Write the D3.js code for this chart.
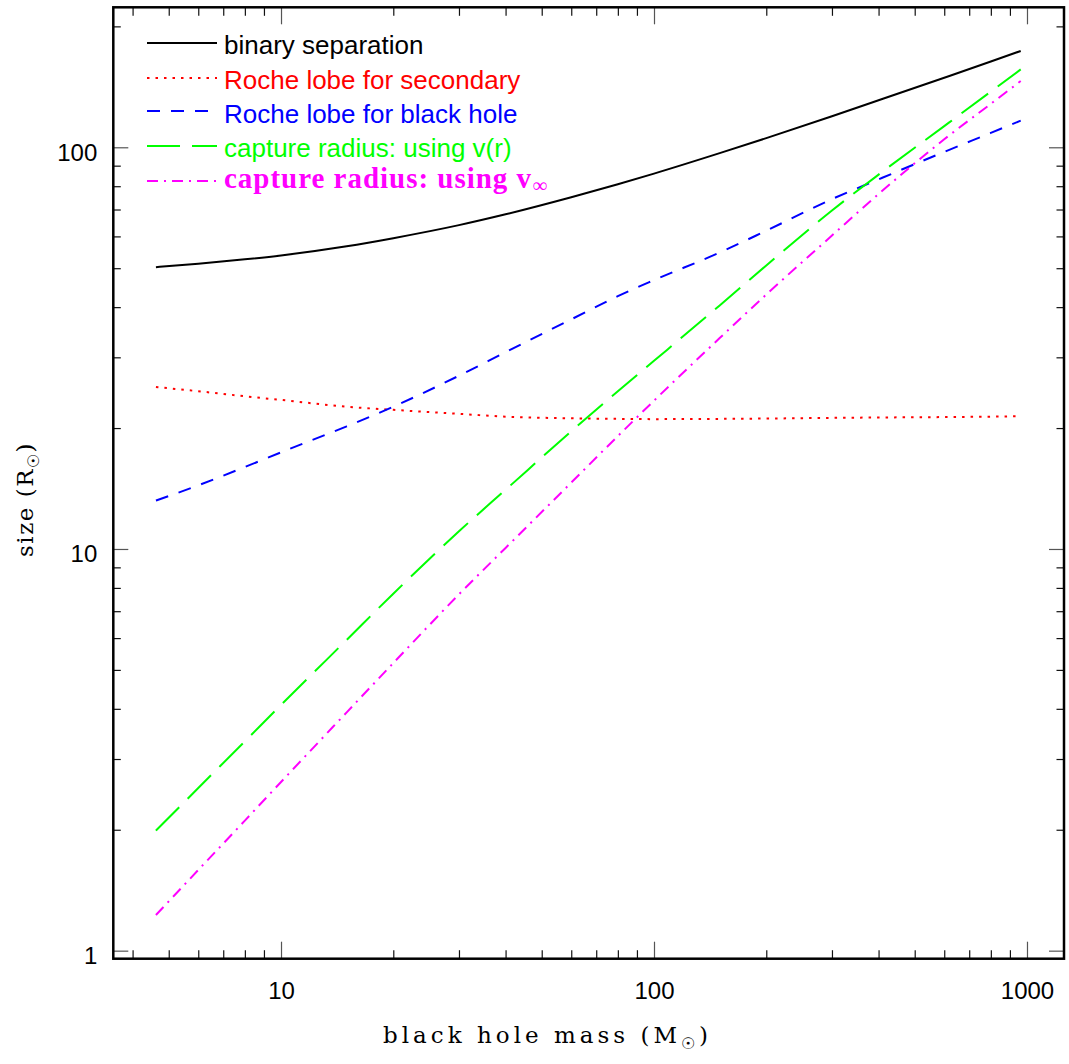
<!DOCTYPE html>
<html>
<head>
<meta charset="utf-8">
<script src="https://cdn.jsdelivr.net/npm/d3@7"></script>
<style>
  html, body { margin: 0; padding: 0; background: #fff; }
  svg { display: block; }
</style>
</head>
<body>
<svg id="chart" width="1069" height="1064"></svg>
<script>
// ---------------- data ----------------
const masses = [4.62, 6, 8, 10, 15, 20, 30, 40, 60, 80, 100, 150, 200, 300, 400, 600, 800, 962];
const binarySeparation = [50.3, 51.3, 52.6, 53.8, 56.7, 59.4, 64.0, 68.1, 75.1, 80.9, 86.0, 96.7, 105.4, 119.5, 130.9, 149.0, 163.5, 173.7];
const rocheSecondary = [25.3, 24.7, 24.0, 23.5, 22.6, 22.2, 21.7, 21.35, 21.15, 21.08, 21.05, 21.08, 21.12, 21.2, 21.25, 21.3, 21.35, 21.4];
const rocheBlackHole = [13.2, 14.4, 16.0, 17.4, 20.2, 22.6, 27.0, 30.9, 37.3, 42.6, 46.7, 54.7, 62.0, 74.3, 83.2, 97.4, 108.6, 116.5];
const captureVr = [1.99, 2.54, 3.32, 4.09, 5.94, 7.74, 11.07, 14.04, 19.63, 24.7, 29.4, 40.4, 50.8, 69.6, 85.5, 112.9, 137.6, 156.3];
const captureVinf = [1.227, 1.588, 2.108, 2.63, 3.92, 5.20, 7.71, 10.06, 14.63, 19.1, 23.4, 33.5, 43.0, 60.3, 76.5, 104.7, 128.3, 146.2];

const seriesNames = ["binary separation", "Roche lobe for secondary", "Roche lobe for black hole", "capture radius: using v(r)", "capture radius: using v"];
const seriesValues = [binarySeparation, rocheSecondary, rocheBlackHole, captureVr, captureVinf];
const seriesColors = ["#000000", "#ff0000", "#0000ff", "#00ff00", "#ff00ff"];
const seriesDashes = [null, "2.5,6", "13,11", "33,12", "11,6,2,6"];

const xMajorTicks = [10, 100, 1000];
const xMajorLabels = ["10", "100", "1000"];
const xMinorTicks = [4, 5, 6, 7, 8, 9, 20, 30, 40, 50, 60, 70, 80, 90, 200, 300, 400, 500, 600, 700, 800, 900];
const yMajorTicks = [1, 10, 100];
const yMajorLabels = ["1", "10", "100"];
const yMinorTicks = [2, 3, 4, 5, 6, 7, 8, 9, 20, 30, 40, 50, 60, 70, 80, 90, 200];

const xTitle = "black hole mass (M";
const yTitle = "size (R";
const sunSymbol = "\u2609";

// ---------------- layout ----------------
const L = 113.3, R = 1064, T = 7.3, B = 958.7;
const svg = d3.select("#chart");

const x = d3.scaleLog().domain([3.551, 1256.7]).range([L, R]);
const y = d3.scaleLog().domain([0.955, 223.1]).range([B, T]);

const sansFont = "'Liberation Sans', Arial, Helvetica, sans-serif";
const serifFont = "'Liberation Serif', 'Times New Roman', serif";
const titleFont = "'DejaVu Serif', 'Liberation Serif', serif";

// ---------------- axes / ticks ----------------
function styleAxis(g, color) {
  g.select(".domain").remove();
  g.selectAll(".tick line").attr("stroke", color).attr("stroke-width", 1.2);
  g.selectAll("text").attr("font-family", sansFont).attr("font-size", 24).attr("fill", "#000");
}

// bottom
svg.append("g").attr("transform", `translate(0,${B})`)
  .call(d3.axisBottom(x).tickValues(xMinorTicks).tickSize(-8.5).tickFormat(""))
  .call(g => styleAxis(g, "#111"));
svg.append("g").attr("transform", `translate(0,${B})`)
  .call(d3.axisBottom(x).tickValues(xMajorTicks).tickSize(-17).tickPadding(23)
        .tickFormat((d, i) => xMajorLabels[i]))
  .call(g => styleAxis(g, "#555"));
// top
svg.append("g").attr("transform", `translate(0,${T})`)
  .call(d3.axisTop(x).tickValues(xMinorTicks).tickSize(-8.5).tickFormat(""))
  .call(g => styleAxis(g, "#111"));
svg.append("g").attr("transform", `translate(0,${T})`)
  .call(d3.axisTop(x).tickValues(xMajorTicks).tickSize(-17).tickFormat(""))
  .call(g => styleAxis(g, "#555"));
// left
svg.append("g").attr("transform", `translate(${L},0)`)
  .call(d3.axisLeft(y).tickValues(yMinorTicks).tickSize(-7.5).tickFormat(""))
  .call(g => styleAxis(g, "#111"));
svg.append("g").attr("transform", `translate(${L},0)`)
  .call(d3.axisLeft(y).tickValues(yMajorTicks).tickSize(-15).tickPadding(16)
        .tickFormat((d, i) => yMajorLabels[i]))
  .call(g => { styleAxis(g, "#555"); g.selectAll("text").attr("dy", "0.53em"); });
// right
svg.append("g").attr("transform", `translate(${R},0)`)
  .call(d3.axisRight(y).tickValues(yMinorTicks).tickSize(-7.5).tickFormat(""))
  .call(g => styleAxis(g, "#111"));
svg.append("g").attr("transform", `translate(${R},0)`)
  .call(d3.axisRight(y).tickValues(yMajorTicks).tickSize(-15).tickFormat(""))
  .call(g => styleAxis(g, "#555"));

// frame
svg.append("rect").attr("x", L).attr("y", T).attr("width", R - L).attr("height", B - T)
  .attr("fill", "none").attr("stroke", "#000").attr("stroke-width", 2.5);

// ---------------- series ----------------
const line = d3.line()
  .x(d => x(d[0]))
  .y(d => y(d[1]))
  .curve(d3.curveMonotoneX);

seriesValues.forEach((vals, i) => {
  const pts = masses.map((m, j) => [m, vals[j]]);
  svg.append("path")
    .datum(pts)
    .attr("d", line)
    .attr("fill", "none")
    .attr("stroke", seriesColors[i])
    .attr("stroke-width", 2)
    .attr("stroke-dasharray", seriesDashes[i]);
});

// ---------------- legend ----------------
const legendLineX0 = 147, legendLineX1 = 217, legendTextX = 224;
const legendLineY = [43, 78, 111, 146, 181];
const legendBaseY = [54, 89, 123, 157, 188];

seriesNames.forEach((name, i) => {
  svg.append("line")
    .attr("x1", legendLineX0).attr("x2", legendLineX1)
    .attr("y1", legendLineY[i]).attr("y2", legendLineY[i])
    .attr("stroke", seriesColors[i]).attr("stroke-width", 2)
    .attr("stroke-dasharray", seriesDashes[i]);
  const t = svg.append("text")
    .attr("x", legendTextX).attr("y", legendBaseY[i])
    .attr("fill", seriesColors[i])
    .text(name);
  if (i < 4) {
    t.attr("font-family", sansFont).attr("font-size", 26);
  } else {
    t.attr("font-family", serifFont).attr("font-size", 29).attr("font-weight", "bold");
    const target = 308;
    const len = t.node().getComputedTextLength();
    const ls = (target - len) / name.length;
    t.attr("letter-spacing", ls);
    svg.append("text")
      .attr("x", legendTextX + target + 1).attr("y", legendBaseY[i] + 4)
      .attr("fill", seriesColors[i])
      .attr("font-family", serifFont).attr("font-size", 20).attr("font-weight", "bold")
      .text("\u221E");
  }
});

// ---------------- axis titles ----------------
function titleText(sel, main) {
  sel.attr("font-family", titleFont).attr("font-size", 23).attr("fill", "#000");
  sel.append("tspan").text(main);
  sel.append("tspan").attr("dy", 6).attr("font-size", 16).text(sunSymbol);
  sel.append("tspan").attr("dy", -6).text(")");
}

function fitText(sel, nChars, target) {
  const len = sel.node().getComputedTextLength();
  sel.attr("letter-spacing", (target - len) / nChars);
}

const xt = svg.append("text").attr("x", 383).attr("y", 1043);
titleText(xt, xTitle);
fitText(xt, (xTitle + sunSymbol + ")").length, 329);

const yt = svg.append("text").attr("transform", "translate(33,557) rotate(-90)");
titleText(yt, yTitle);
fitText(yt, (yTitle + sunSymbol + ")").length, 115);
</script>
</body>
</html>
